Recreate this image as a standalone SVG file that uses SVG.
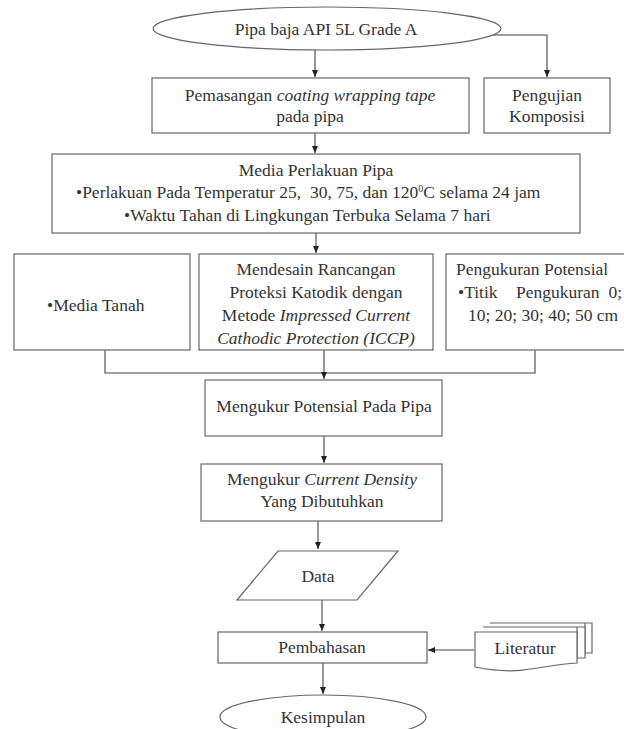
<svg xmlns="http://www.w3.org/2000/svg" width="624" height="729" viewBox="0 0 624 729">
<style>
.s{fill:#fff;stroke:#666;stroke-width:1.2}
.t{font-family:"Liberation Serif","Times New Roman",serif;font-size:17.5px;fill:#333}
.c{text-anchor:middle}
.l{fill:none;stroke:#444;stroke-width:1.1}
</style>
<defs>
<marker id="a" markerWidth="8" markerHeight="8" refX="7" refY="4" orient="auto" markerUnits="userSpaceOnUse">
<path d="M0,1 L7,4 L0,7 Z" fill="#222"/>
</marker>
</defs>
<rect width="624" height="729" fill="#fff"/>
<g id="connectors">
<path class="l" d="M315,50 V77" marker-end="url(#a)"/>
<path class="l" d="M493,35 H547 V77" marker-end="url(#a)"/>
<path class="l" d="M315,133 V153" marker-end="url(#a)"/>
<path class="l" d="M316,233 V253" marker-end="url(#a)"/>
<path class="l" d="M105,350 V373 H535 V350"/>
<path class="l" d="M324,350 V379" marker-end="url(#a)"/>
<path class="l" d="M324,436 V463" marker-end="url(#a)"/>
<path class="l" d="M318,521 V549" marker-end="url(#a)"/>
<path class="l" d="M322,600 V631" marker-end="url(#a)"/>
<path class="l" d="M474,650 H428" marker-end="url(#a)"/>
<path class="l" d="M323,663 V694" marker-end="url(#a)"/>
</g>
<g id="n1">
<ellipse class="s" cx="327" cy="28.5" rx="174" ry="21.5"/>
<text class="t c" x="326" y="35">Pipa baja API 5L Grade A</text>
</g>
<g id="n2">
<rect class="s" x="152" y="78" width="317" height="55"/>
<text class="t c" x="310" y="101">Pemasangan <tspan font-style="italic">coating wrapping tape</tspan></text>
<text class="t c" x="310" y="122">pada pipa</text>
</g>
<g id="n3">
<rect class="s" x="484" y="78" width="126" height="55"/>
<text class="t c" x="547" y="101">Pengujian</text>
<text class="t c" x="547" y="122">Komposisi</text>
</g>
<g id="n4">
<rect class="s" x="52" y="154" width="528" height="79"/>
<text class="t c" x="316" y="176">Media Perlakuan Pipa</text>
<text class="t" x="76" y="198" xml:space="preserve">•Perlakuan Pada Temperatur 25,  30, 75, dan 120<tspan font-size="10" dy="-6">0</tspan><tspan dy="6">C selama 24 jam</tspan></text>
<text class="t" x="124" y="221">•Waktu Tahan di Lingkungan Terbuka Selama 7 hari</text>
</g>
<g id="n5">
<rect class="s" x="14" y="254" width="176" height="96"/>
<text class="t" x="47" y="311">•Media Tanah</text>
</g>
<g id="n6">
<rect class="s" x="199" y="254" width="234" height="96"/>
<text class="t c" x="316" y="275">Mendesain Rancangan</text>
<text class="t c" x="316" y="298">Proteksi Katodik dengan</text>
<text class="t c" x="316" y="321">Metode <tspan font-style="italic">Impressed Current</tspan></text>
<text class="t c" x="316" y="344" font-style="italic">Cathodic Protection (ICCP)</text>
</g>
<g id="n7">
<rect class="s" x="446" y="254" width="186" height="96"/>
<text class="t" x="456" y="275">Pengukuran Potensial</text>
<text class="t" x="458" y="298">•Titik</text>
<text class="t" x="516" y="298">Pengukuran</text>
<text class="t" x="622" y="298" text-anchor="end">0;</text>
<text class="t" x="468" y="321">10; 20; 30; 40; 50 cm</text>
</g>
<g id="n8">
<rect class="s" x="205" y="380" width="237" height="56"/>
<text class="t c" x="324" y="412">Mengukur Potensial Pada Pipa</text>
</g>
<g id="n9">
<rect class="s" x="201" y="464" width="241" height="57"/>
<text class="t c" x="322" y="485">Mengukur <tspan font-style="italic">Current Density</tspan></text>
<text class="t c" x="322" y="507">Yang Dibutuhkan</text>
</g>
<g id="n10">
<path class="s" d="M278,551 H398 L357,600 H237 Z"/>
<text class="t c" x="318" y="582">Data</text>
</g>
<g id="n11">
<rect class="s" x="218" y="632" width="209" height="31"/>
<text class="t c" x="322" y="653">Pembahasan</text>
</g>
<g id="n12">
<path class="s" d="M490,623 H592 V653 H585 V623"/>
<path class="s" d="M483,627 H585 V658 H577 V627"/>
<path class="s" d="M475,632 H577 V663 C560,664 545,667 530,669 C510,673 490,670 475,667 Z"/>
<text class="t c" x="525" y="654">Literatur</text>
</g>
<g id="n13">
<ellipse class="s" cx="323" cy="717" rx="103" ry="22"/>
<text class="t c" x="323" y="723">Kesimpulan</text>
</g>
</svg>
